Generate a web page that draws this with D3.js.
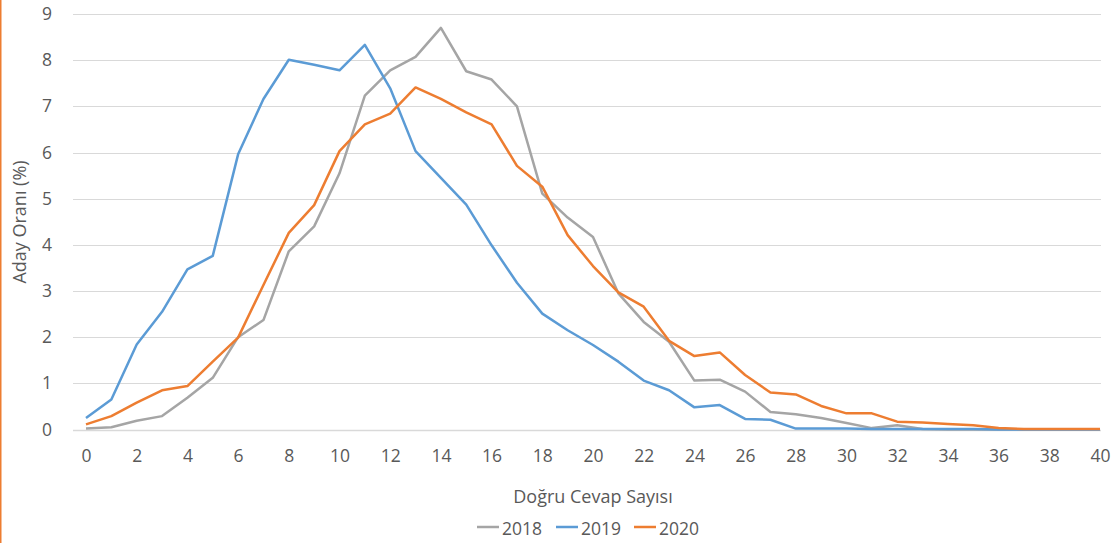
<!DOCTYPE html>
<html>
<head>
<meta charset="utf-8">
<script src="https://cdn.jsdelivr.net/npm/d3@7"></script>
<style>
  body { margin: 0; background: #fff; }
  svg { display: block; }
  text { font-family: "Open Sans", "Liberation Sans", sans-serif; fill: #595959; }
</style>
</head>
<body>
<div class="graphContainer"></div>
<script>
// chart size
const w = 1117;
const h = 543;
const m = { left: 86, right: 17, top: 14, bottom: 113 };

// x values: number of correct answers 0..40
const dogru = d3.range(0, 41);

// series values, % of candidates
const y2018 = [0.02, 0.05, 0.19, 0.29, 0.69, 1.12, 2.0, 2.37, 3.86, 4.40,
               5.55, 7.23, 7.78, 8.07, 8.70, 7.76, 7.58, 7.0, 5.11, 4.59,
               4.17, 2.95, 2.33, 1.90, 1.06, 1.08, 0.82, 0.38, 0.33, 0.25,
               0.14, 0.03, 0.09, 0.01, 0, 0, 0, 0, 0, 0, 0];
const y2019 = [0.25, 0.65, 1.84, 2.55, 3.47, 3.76, 5.96, 7.16, 8.01, 7.90,
               7.78, 8.33, 7.39, 6.03, 5.45, 4.87, 3.99, 3.18, 2.51, 2.15,
               1.83, 1.47, 1.06, 0.85, 0.48, 0.53, 0.23, 0.21, 0.02, 0.02,
               0.02, 0.01, 0.01, 0.01, 0.01, 0.01, 0, 0, 0, 0, 0];
const y2020 = [0.11, 0.29, 0.58, 0.85, 0.94, 1.47, 1.99, 3.13, 4.26, 4.86,
               6.03, 6.61, 6.84, 7.41, 7.16, 6.87, 6.61, 5.71, 5.26, 4.21,
               3.54, 2.97, 2.66, 1.92, 1.59, 1.67, 1.18, 0.80, 0.76, 0.51,
               0.35, 0.35, 0.17, 0.15, 0.12, 0.09, 0.03, 0.01, 0.01, 0.01, 0.01];

const seriesNames = ["2018", "2019", "2020"];
const seriesColors = ["#a5a5a5", "#5b9bd5", "#ed7d31"];
const seriesData = [y2018, y2019, y2020];

const xTicks = d3.range(0, 41, 2);
const yTicks = d3.range(0, 10, 1);

const svg = d3.select(".graphContainer").append("svg")
  .attr("width", w)
  .attr("height", h);

// thin orange frame line on the left edge
svg.append("line")
  .attr("x1", 0.75).attr("x2", 0.75)
  .attr("y1", 0).attr("y2", h)
  .attr("stroke", "#ed7d31")
  .attr("stroke-width", 1.5);

const xScale = d3.scaleLinear()
  .domain([0, 40])
  .range([m.left, w - m.right]);

const yScale = d3.scaleLinear()
  .domain([0, 9])
  .range([h - m.bottom - 0.5, m.top]);

// gridlines
svg.append("g")
  .selectAll("line")
  .data(yTicks)
  .enter()
  .append("line")
  .attr("x1", m.left - 13)
  .attr("x2", w - m.right + 1)
  .attr("y1", d => Math.round(yScale(d)) + 0.5)
  .attr("y2", d => Math.round(yScale(d)) + 0.5)
  .attr("stroke", "#d9d9d9")
  .attr("stroke-width", d => d === 0 ? 1.5 : 1);

// y axis labels
const yAxis = d3.axisLeft(yScale)
  .tickValues(yTicks)
  .tickSize(0)
  .tickPadding(0)
  .tickFormat(d => String(d));

svg.append("g")
  .attr("transform", "translate(" + (m.left - 34) + ",0)")
  .call(yAxis)
  .call(g => g.select(".domain").remove())
  .selectAll("text")
  .style("font-size", "17.5px")
  .style("fill", "#595959")
  .style("font-family", "'Open Sans', sans-serif");

// x axis labels
const xAxis = d3.axisBottom(xScale)
  .tickValues(xTicks)
  .tickSize(0)
  .tickPadding(0)
  .tickFormat(d => String(d));

svg.append("g")
  .attr("transform", "translate(0," + (h - m.bottom + 20) + ")")
  .call(xAxis)
  .call(g => g.select(".domain").remove())
  .selectAll("text")
  .style("font-size", "17.5px")
  .style("fill", "#595959")
  .style("font-family", "'Open Sans', sans-serif");

// lines
const line = d3.line()
  .x((d, i) => xScale(dogru[i]))
  .y(d => yScale(d));

seriesData.forEach((s, k) => {
  svg.append("path")
    .datum(s)
    .attr("fill", "none")
    .attr("stroke", seriesColors[k])
    .attr("stroke-width", 2.5)
    .attr("stroke-linejoin", "round")
    .attr("d", line);
});

// axis titles
svg.append("text")
  .attr("x", 593)
  .attr("y", 503)
  .attr("text-anchor", "middle")
  .style("font-size", "18px")
  .text("Doğru Cevap Sayısı");

svg.append("text")
  .attr("transform", "translate(26," + 222 + ") rotate(-90)")
  .attr("text-anchor", "middle")
  .style("font-size", "18px")
  .text("Aday Oranı (%)");

// legend
const legendX = [477, 556, 634];
const legend = svg.append("g");
seriesNames.forEach((name, k) => {
  const g = legend.append("g")
    .attr("transform", "translate(" + legendX[k] + ",527)");
  g.append("line")
    .attr("x1", 0).attr("x2", 22)
    .attr("y1", 0).attr("y2", 0)
    .attr("stroke", seriesColors[k])
    .attr("stroke-width", 2.5);
  g.append("text")
    .attr("x", 25)
    .attr("y", 8)
    .style("font-size", "17.5px")
    .text(name);
});
</script>
</body>
</html>
